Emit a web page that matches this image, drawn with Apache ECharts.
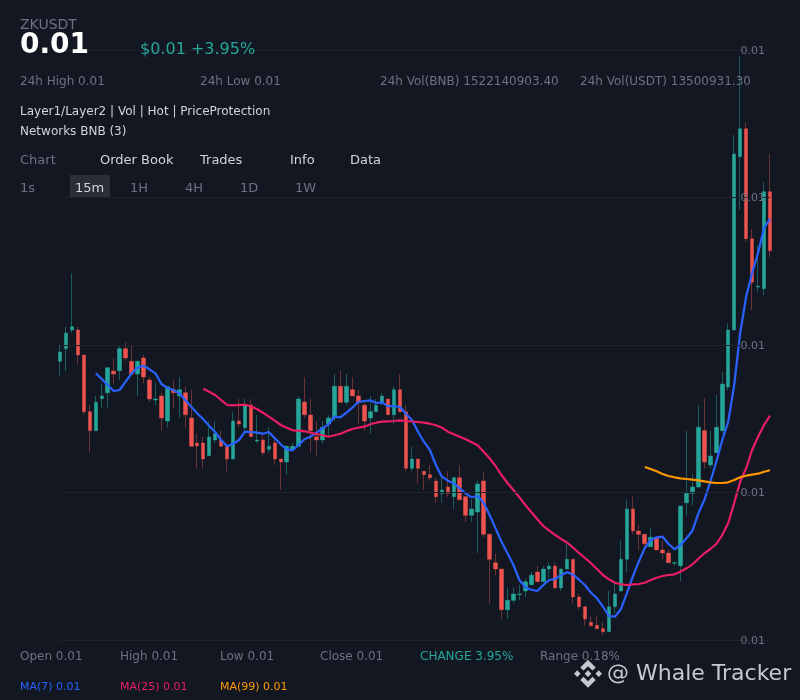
<!DOCTYPE html>
<html><head><meta charset="utf-8">
<style>html,body{margin:0;padding:0;background:#131722}#c{width:800px;height:700px}</style>
<script src="https://cdn.jsdelivr.net/npm/echarts@6/dist/echarts.min.js"></script>
</head><body><div id="c"></div>
<script>
// Prices are in units of 0.00001 USDT
const opens=[868.7,881.3,900,900,875,818.3,799.3,831.3,837.3,859,
859.3,881.3,868.7,856,872,850,830,834,809,840.3,
834,837.3,812,787,787,774.3,790,790,783.7,771,
809,802.3,825,789,790,780.7,787,771,768,780.7,
783.7,828,815,793.3,790,806,812,843.7,827.7,840.3,
834,824.7,812,818.3,827.7,831,815.3,840.3,818.3,761.7,
771,758.7,755.3,749,736.7,743,733.3,752.3,733.3,714.7,
718,749,695.7,667.3,661,620.3,629.7,635.3,639,645.3,
658,648.3,661,664,642,661,670.7,633,623.3,607.7,
604.7,601.3,598.3,623.3,639,670.7,721,699,695.7,683.3,
692.7,680,677,666.7,664.3,727.3,736.7,743,799.3,765,
777.3,799.3,843,900,1073.3,1101.3,991.3,943,941.3,1038.3];
const closes=[878,897,903.3,875,818.3,799.3,827.7,834,862.3,856,
881.3,872,856,868.7,853,831,831,812,843.3,837.3,
840.3,815.3,783.7,784,771,793,796.3,783.7,771,809,
806,825,793.3,790,777.3,783.7,771,768,783.7,783.7,
831,815.3,799.3,790,802.7,812,843.7,827.7,843.7,834,
827.7,809,818.3,824.7,834,815.3,840.3,818.3,761.7,771,
761.7,755.3,752.3,733.3,740,736.7,752.3,730.3,714.7,721,
746,695.7,670.7,661,620.3,629.7,636,636,648.3,654.7,
648.3,661,664,642,661,670.7,633,623.3,611,604.3,
601.3,598.3,623.3,636,670.7,721,699,695.7,686.3,692.7,
680,677,667.3,667.3,724,736.7,743,802.7,768,774,
802.7,846,900,1076,1101.3,991.3,947.7,944,1038.3,979.3];
const lows=[853.3,859.3,897.3,865.7,815.3,777.3,799.3,821.7,821.7,846.7,
850,869,856,834,846.7,828,824.7,799.3,802.7,821.3,
812,802.7,783.7,761.7,761.7,774.3,787,783.7,758.7,771,
802.5,799.3,793.3,786.7,774.3,777.3,765,740,755.3,780,
783.7,812,777.3,774.3,786.7,793.3,809,827.7,824.7,834,
805.7,799.3,796.3,818.3,824.7,815.3,805.7,818.3,758.7,758.7,
746,740,749,727.3,727.3,733.3,721,730.3,708.3,708.3,
677,692.7,626.7,654.7,610.7,611,626.7,629.7,632.7,645.3,
648.3,648.3,651.7,642,639,661,626.7,620.3,604.7,604.3,
601.3,595,598.3,617,639,658,695.7,680,680,683.3,
680,670.7,667.3,664.3,648.7,714.7,724.3,743,761.7,761.7,
777.3,796.7,840,900,1020,988.3,919.3,938.3,935,973];
const highs=[884.7,903.3,956.7,903.3,875,825,834,846.7,862.3,871.7,
884.3,887.7,884.3,868.7,875,853,846.7,837.3,843.3,849.7,
853,843.3,840.3,796.3,793,808.7,808.7,799.3,783.7,818.3,
831,831,831,815,796,802.7,790,771,783.7,786.7,
834,853,831,809,809,815,856,859.3,856,853,
840.3,827.7,834,831,837,831,843.7,856,824.7,783.7,
771,758.7,765,752.3,752.3,758.7,752.3,765,733.3,730.3,
749,758.7,695.7,676.7,661,642.3,642.3,645.3,651.7,658,
664,664,667.3,667.3,661,686.7,670.7,636,623.3,614,
614,607.7,639,648.3,689.3,730.7,733.3,705,695.7,702,
692.7,689.3,680,667.3,724,799.3,755.7,825,832,799.3,
835,858,906.7,1095,1174,1107.7,1000.7,985,1048,1076];
const ma7Start=6;
const ma7=[856.7,851,845,839,840,848.3,856.7,862.3,864.3,860.7,856.7,846,842,840,836.7,830,823.3,816.7,810.7,804.3,798,790,783.7,786,
790,798.3,798,797.3,796.3,798,791.7,785.7,780.7,779.7,785,791,793.3,797.3,801.7,805.7,813.3,812.7,817.3,822.3,828,829,829.7,827,827.7,823.7,824,823,816,810,798.3,
788.3,780,765,753.3,749.3,746.7,741.7,736.7,732.7,734,727.3,715,701.7,688.3,676.7,665,650,642.7,640.3,639,645,650,651,655,657.7,655.3,650.3,644.7,637.3,
631.7,623.3,614,613.3,620.7,636.7,653.3,668.3,681.7,690,692.7,693.3,686,680.7,685,691.7,699.3,716.7,730,748.3,768.3,790,808.3,845,897,933.3,957,977,1002,1011];
const ma25Start=24;
const ma25=[841.3,838.3,835,830,825,824.7,825,825.3,823.7,821,817.3,813.3,809.3,805,802.3,799.7,799.3,798.7,797.3,796,794.7,793.3,794.7,796.3,798.7,801,802.3,803.3,805.7,807.3,808.3,808.7,809,809.7,809,808.5,808,
807.3,806.3,804.7,802.3,798.3,795.7,793.3,790.7,787.7,784.7,778.3,771.7,764,755,747,740,732.7,725,717.7,710.7,704,699.3,695,691,687.3,682.3,677,672,666.7,
661,655,650.7,647.3,645.7,645,645.7,646,647.3,650,652.3,654,655,655.7,658.3,661.7,665.7,671.3,676.7,681,686,695,707,727,748.3,761.7,780,793.3,805,814.3];
const ma99Start=98;
const ma99=[763,761,758.7,756,754,752.7,751.7,751,750.3,749.7,748.7,747.7,747,747,747.7,750,752.7,754.3,755.3,756.3,758.3,759.7];
const categories=opens.map((_,i)=>String(i));
const candles=opens.map((o,i)=>[o,closes[i],lows[i],highs[i]]);
const bodies=opens.map((o,i)=>[o,closes[i],Math.min(o,closes[i]),Math.max(o,closes[i])]);
const pad=(start,a)=>Array(start).fill('-').concat(a);
const up='#26a69a',down='#ef5350',grey='#6b7280',light='#d1d4dc',font='"DejaVu Sans"';
const t=(x,y,text,fill,size,extra)=>({type:'text',x,y:y+1,z:20,silent:true,style:Object.assign({text,fill,font:`${size}px ${font}`,textVerticalAlign:'middle'},extra||{})});
const poly=(pts)=>({type:'polygon',z:20,silent:true,shape:{points:pts},style:{fill:'#c5c8ce'}});
const LX=588,LY=673.7,LS=14;
const lg=(a)=>a.map(p=>[LX+p[0]*LS,LY+p[1]*LS]);
const chart=echarts.init(document.getElementById('c'),null,{renderer:'canvas'});
chart.setOption({
 animation:false,backgroundColor:'#131722',
 grid:{left:60,right:30,top:50,bottom:60},
 xAxis:{type:'category',data:categories,boundaryGap:false,show:false},
 yAxis:{type:'value',min:590,max:1180,interval:147.5,position:'right',
  axisLine:{show:false},axisTick:{show:false},
  splitLine:{lineStyle:{color:'#1e222d',width:1}},
  axisLabel:{inside:true,margin:5,formatter:v=>'{a|'+(v/1e5).toFixed(2)+'}',
   rich:{a:{color:grey,fontSize:11,fontFamily:font,padding:[2,0,0,0]}}},z:10},
 series:[
  {type:'candlestick',data:candles,barWidth:4,clip:false,z:2,itemStyle:{color:'#1e6f6b',color0:'#84393b',borderColor:'#1e6f6b',borderColor0:'#84393b',borderWidth:1,opacity:.8}},
  {type:'candlestick',data:bodies,barWidth:4,clip:false,z:3,itemStyle:{color:up,color0:down,borderWidth:0}},
  {type:'line',data:pad(ma7Start,ma7),showSymbol:false,symbol:'none',lineStyle:{color:'#2962ff',width:2.2},z:5},
  {type:'line',data:pad(ma25Start,ma25),showSymbol:false,symbol:'none',lineStyle:{color:'#e91e63',width:2.2},z:5},
  {type:'line',data:pad(ma99Start,ma99),showSymbol:false,symbol:'none',lineStyle:{color:'#ff9800',width:2.2},z:5}
 ],
 graphic:[
  t(20,24,'ZKUSDT',grey,14),
  t(20,45,'0.01','#ffffff',28,{font:`bold 28px ${font}`}),
  t(140,49,'$0.01 +3.95%',up,16),
  t(20,81,'24h High 0.01',grey,12),t(200,81,'24h Low 0.01',grey,12),
  t(380,81,'24h Vol(BNB) 1522140903.40',grey,12),t(580,81,'24h Vol(USDT) 13500931.30',grey,12),
  t(20,111,'Layer1/Layer2 | Vol | Hot | PriceProtection',light,12),
  t(20,131,'Networks BNB (3)',light,12),
  t(20,160,'Chart',grey,13),t(100,160,'Order Book',light,13),t(200,160,'Trades',light,13),t(290,160,'Info',light,13),t(350,160,'Data',light,13),
  {type:'rect',z:1,silent:true,shape:{x:70,y:175,width:40,height:22},style:{fill:'#2a2e39'}},
  t(20,188,'1s',grey,13),t(75,188,'15m',light,13),t(130,188,'1H',grey,13),t(185,188,'4H',grey,13),t(240,188,'1D',grey,13),t(295,188,'1W',grey,13),
  t(20,656,'Open 0.01',grey,12),t(120,656,'High 0.01',grey,12),t(220,656,'Low 0.01',grey,12),t(320,656,'Close 0.01',grey,12),
  t(420,656,'CHANGE 3.95%',up,12),t(540,656,'Range 0.18%',grey,12),
  t(20,686,'MA(7) 0.01','#2962ff',11),t(120,686,'MA(25) 0.01','#e91e63',11),t(220,686,'MA(99) 0.01','#ff9800',11),
  t(607,673,'@ Whale Tracker','#c5c8ce',22),
  poly(lg([[0,-1],[.55,-.45],[.32,-.22],[0,-.54],[-.32,-.22],[-.55,-.45]])),
  poly(lg([[0,1],[.55,.45],[.32,.22],[0,.54],[-.32,.22],[-.55,.45]])),
  poly(lg([[0,-.24],[.24,0],[0,.24],[-.24,0]])),
  poly(lg([[-.77,-.24],[-.53,0],[-.77,.24],[-1,0]])),
  poly(lg([[.77,-.24],[1,0],[.77,.24],[.53,0]]))
 ]
});
</script></body></html>
